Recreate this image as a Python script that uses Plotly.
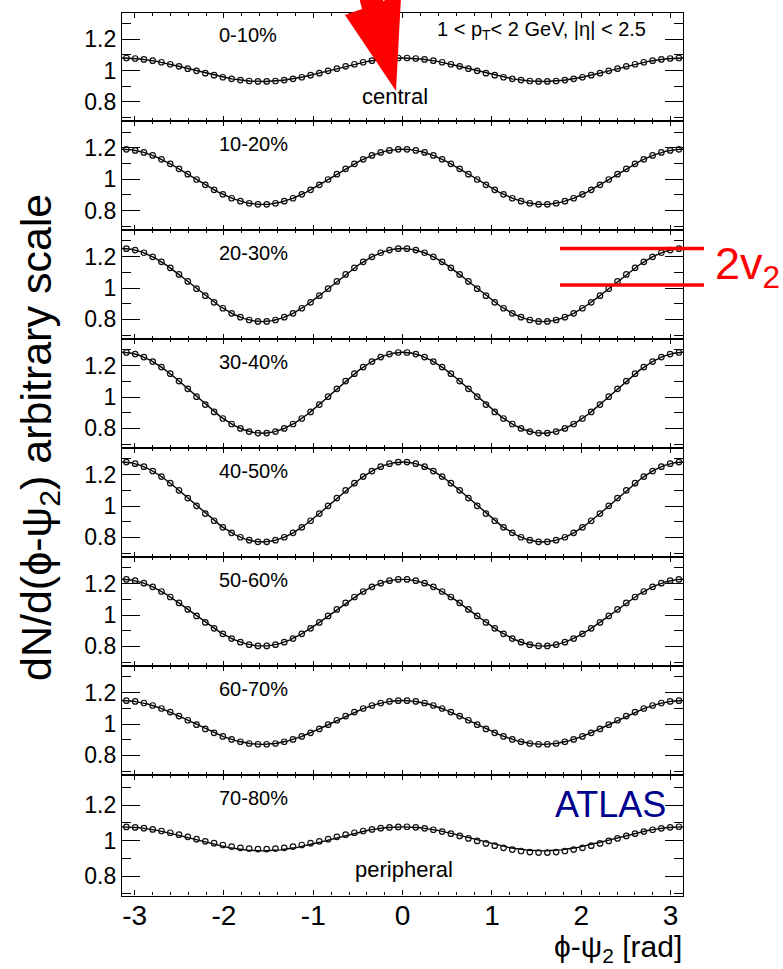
import numpy as np
import plotly.graph_objects as go

W, H = 783, 969

# ---------------- data ----------------
centrality = ["0-10%", "10-20%", "20-30%", "30-40%", "40-50%", "50-60%", "60-70%", "70-80%"]
n_bins = 64
phi_edges = np.linspace(-np.pi, np.pi, n_bins + 1)
phi = 0.5 * (phi_edges[:-1] + phi_edges[1:])

y_0_10 = [1.080, 1.077, 1.071, 1.063, 1.053, 1.040, 1.027, 1.012, 0.998, 0.983, 0.970, 0.957, 0.947, 0.939, 0.933, 0.930,
          0.930, 0.933, 0.939, 0.947, 0.957, 0.970, 0.983, 0.998, 1.012, 1.027, 1.040, 1.053, 1.063, 1.071, 1.077, 1.080,
          1.080, 1.077, 1.071, 1.063, 1.053, 1.040, 1.027, 1.012, 0.998, 0.983, 0.970, 0.957, 0.947, 0.939, 0.933, 0.930,
          0.930, 0.933, 0.939, 0.947, 0.957, 0.970, 0.983, 0.998, 1.012, 1.027, 1.040, 1.053, 1.063, 1.071, 1.077, 1.080]
y_10_20 = [1.191, 1.184, 1.171, 1.152, 1.127, 1.098, 1.066, 1.032, 0.998, 0.964, 0.932, 0.903, 0.878, 0.859, 0.846, 0.839,
           0.839, 0.846, 0.859, 0.878, 0.903, 0.932, 0.964, 0.998, 1.032, 1.066, 1.098, 1.127, 1.152, 1.171, 1.184, 1.191,
           1.191, 1.184, 1.171, 1.152, 1.127, 1.098, 1.066, 1.032, 0.998, 0.964, 0.932, 0.903, 0.878, 0.859, 0.846, 0.839,
           0.839, 0.846, 0.859, 0.878, 0.903, 0.932, 0.964, 0.998, 1.032, 1.066, 1.098, 1.127, 1.152, 1.171, 1.184, 1.191]
y_20_30 = [1.251, 1.242, 1.225, 1.199, 1.167, 1.129, 1.087, 1.042, 0.996, 0.951, 0.909, 0.871, 0.839, 0.814, 0.796, 0.787,
           0.787, 0.796, 0.814, 0.839, 0.871, 0.909, 0.951, 0.996, 1.042, 1.087, 1.129, 1.167, 1.199, 1.225, 1.242, 1.251,
           1.251, 1.242, 1.225, 1.199, 1.167, 1.129, 1.087, 1.042, 0.996, 0.951, 0.909, 0.871, 0.839, 0.814, 0.796, 0.787,
           0.787, 0.796, 0.814, 0.839, 0.871, 0.909, 0.951, 0.996, 1.042, 1.087, 1.129, 1.167, 1.199, 1.225, 1.242, 1.251]
y_30_40 = [1.284, 1.274, 1.255, 1.226, 1.191, 1.149, 1.102, 1.052, 1.002, 0.952, 0.905, 0.863, 0.828, 0.800, 0.780, 0.770,
           0.770, 0.780, 0.800, 0.828, 0.863, 0.905, 0.952, 1.002, 1.052, 1.102, 1.149, 1.191, 1.226, 1.255, 1.274, 1.284,
           1.284, 1.274, 1.255, 1.226, 1.191, 1.149, 1.102, 1.052, 1.002, 0.952, 0.905, 0.863, 0.828, 0.800, 0.780, 0.770,
           0.770, 0.780, 0.800, 0.828, 0.863, 0.905, 0.952, 1.002, 1.052, 1.102, 1.149, 1.191, 1.226, 1.255, 1.274, 1.284]
y_40_50 = [1.280, 1.270, 1.251, 1.223, 1.188, 1.146, 1.100, 1.051, 1.001, 0.952, 0.906, 0.864, 0.829, 0.801, 0.782, 0.772,
           0.772, 0.782, 0.801, 0.829, 0.864, 0.906, 0.952, 1.001, 1.051, 1.100, 1.146, 1.188, 1.223, 1.251, 1.270, 1.280,
           1.280, 1.270, 1.251, 1.223, 1.188, 1.146, 1.100, 1.051, 1.001, 0.952, 0.906, 0.864, 0.829, 0.801, 0.782, 0.772,
           0.772, 0.782, 0.801, 0.829, 0.864, 0.906, 0.952, 1.001, 1.051, 1.100, 1.146, 1.188, 1.223, 1.251, 1.270, 1.280]
y_50_60 = [1.227, 1.219, 1.203, 1.180, 1.150, 1.115, 1.077, 1.036, 0.994, 0.953, 0.915, 0.880, 0.850, 0.827, 0.811, 0.803,
           0.803, 0.811, 0.827, 0.850, 0.880, 0.915, 0.953, 0.994, 1.036, 1.077, 1.115, 1.150, 1.180, 1.203, 1.219, 1.227,
           1.227, 1.219, 1.203, 1.180, 1.150, 1.115, 1.077, 1.036, 0.994, 0.953, 0.915, 0.880, 0.850, 0.827, 0.811, 0.803,
           0.803, 0.811, 0.827, 0.850, 0.880, 0.915, 0.953, 0.994, 1.036, 1.077, 1.115, 1.150, 1.180, 1.203, 1.219, 1.227]
y_60_70 = [1.149, 1.144, 1.134, 1.118, 1.099, 1.076, 1.051, 1.024, 0.996, 0.969, 0.944, 0.921, 0.902, 0.887, 0.876, 0.871,
           0.871, 0.876, 0.887, 0.902, 0.921, 0.944, 0.969, 0.996, 1.024, 1.051, 1.076, 1.099, 1.118, 1.134, 1.144, 1.149,
           1.149, 1.144, 1.134, 1.118, 1.099, 1.076, 1.051, 1.024, 0.996, 0.969, 0.944, 0.921, 0.902, 0.887, 0.876, 0.871,
           0.871, 0.876, 0.887, 0.902, 0.921, 0.944, 0.969, 0.996, 1.024, 1.051, 1.076, 1.099, 1.118, 1.134, 1.144, 1.149]
y_70_80 = [1.077, 1.074, 1.070, 1.063, 1.054, 1.044, 1.033, 1.021, 1.008, 0.996, 0.985, 0.975, 0.966, 0.959, 0.955, 0.952,
           0.952, 0.955, 0.959, 0.966, 0.975, 0.985, 0.996, 1.008, 1.021, 1.033, 1.044, 1.054, 1.063, 1.070, 1.074, 1.077,
           1.078, 1.075, 1.069, 1.061, 1.051, 1.039, 1.026, 1.012, 0.998, 0.984, 0.971, 0.959, 0.949, 0.941, 0.935, 0.932,
           0.932, 0.935, 0.941, 0.949, 0.959, 0.971, 0.984, 0.998, 1.012, 1.026, 1.039, 1.051, 1.061, 1.069, 1.075, 1.078]

series = [y_0_10, y_10_20, y_20_30, y_30_40, y_40_50, y_50_60, y_60_70, y_70_80]

x_tick_vals = [-3, -2, -1, 0, 1, 2, 3]
x_tick_text = ["-3", "-2", "-1", "0", "1", "2", "3"]
y_tick_vals = [0.8, 1.0, 1.2]
y_tick_text = ["0.8", "1", "1.2"]

# ---------------- layout helpers ----------------
def fx(p):
    return p / W

def fy(p):
    return 1 - p / H

FONT = "Liberation Sans, Arial, Helvetica, sans-serif"
panel_edges_px = [12.7, 121.3, 230, 339, 448, 557, 666, 775, 895.5]
plot_left_px, plot_right_px = 122, 683.3
yranges = [[0.675, 1.37]] * 7 + [[0.69, 1.37]]

fig = go.Figure()
xs = np.linspace(-np.pi, np.pi, 721)
fits = []
for i, ys in enumerate(series):
    ya = np.asarray(ys)
    A = np.column_stack([np.ones_like(phi), np.cos(2 * phi)])
    coef, *_ = np.linalg.lstsq(A, ya, rcond=None)
    fits.append(coef)
    sfx = "" if i == 0 else str(i + 1)
    fig.add_trace(go.Scatter(x=xs, y=coef[0] + coef[1] * np.cos(2 * xs), mode="lines",
                             line=dict(color="black", width=1.4), xaxis="x" + sfx, yaxis="y" + sfx,
                             hoverinfo="skip"))
    fig.add_trace(go.Scatter(x=phi, y=ya, mode="markers",
                             marker=dict(symbol="circle-open", size=5.5, color="#111111", line=dict(width=1.2)),
                             xaxis="x" + sfx, yaxis="y" + sfx))

layout = dict(width=W, height=H, margin=dict(l=0, r=0, t=0, b=0), showlegend=False,
              paper_bgcolor="white", plot_bgcolor="white", template="none",
              font=dict(family=FONT, color="black"))

for i in range(8):
    sfx = "" if i == 0 else str(i + 1)
    top, bot = panel_edges_px[i], panel_edges_px[i + 1]
    layout["xaxis" + sfx] = dict(
        domain=[fx(plot_left_px), fx(plot_right_px)], anchor="y" + sfx, range=[-np.pi, np.pi],
        showline=True, linecolor="black", linewidth=1.3, mirror="allticks",
        ticks="inside", ticklen=5, tickwidth=1.1, tickcolor="black",
        tickvals=x_tick_vals, ticktext=x_tick_text, showticklabels=(i == 7),
        tickfont=dict(size=28, family=FONT), ticklabelstandoff=-5,
        showgrid=False, zeroline=False, automargin=False,
        minor=dict(ticks="inside", dtick=0.2, tick0=0, ticklen=3, tickwidth=1, tickcolor="black", showgrid=False),
    )
    layout["yaxis" + sfx] = dict(
        domain=[fy(bot), fy(top)], anchor="x" + sfx, range=yranges[i],
        showline=True, linecolor="black", linewidth=1.3, mirror="allticks",
        ticks="inside", ticklen=18, tickwidth=1.1, tickcolor="black",
        tickvals=y_tick_vals, ticktext=y_tick_text, tickfont=dict(size=23, family=FONT),
        showgrid=False, zeroline=False, automargin=False,
        minor=dict(ticks="inside", dtick=0.1, tick0=0, ticklen=9, tickwidth=1, tickcolor="black", showgrid=False),
    )

annotations = []
for i, lab in enumerate(centrality):
    annotations.append(dict(text=lab, x=fx(217), y=fy(panel_edges_px[i] + 22.6), xref="paper", yref="paper",
                            xanchor="left", yanchor="middle", showarrow=False, font=dict(size=20, family=FONT)))

annotations += [
    dict(text="1 < p<sub>T</sub>< 2 GeV, |η| < 2.5", x=fx(435), y=fy(30), xref="paper", yref="paper",
         xanchor="left", yanchor="middle", showarrow=False, font=dict(size=20, family=FONT)),
    dict(text="central", x=fx(360), y=fy(97), xref="paper", yref="paper",
         xanchor="left", yanchor="middle", showarrow=False, font=dict(size=22, family=FONT)),
    dict(text="peripheral", x=fx(353), y=fy(869), xref="paper", yref="paper",
         xanchor="left", yanchor="middle", showarrow=False, font=dict(size=22, family=FONT)),
    dict(text="ATLAS", x=fx(553), y=fy(804), xref="paper", yref="paper",
         xanchor="left", yanchor="middle", showarrow=False, font=dict(size=36, family=FONT, color="#00008f")),
    dict(text="ϕ-ψ<sub>2</sub> [rad]", x=fx(684), y=fy(948), xref="paper", yref="paper",
         xanchor="right", yanchor="middle", showarrow=False, font=dict(size=30, family=FONT)),
    dict(text="dN/d(ϕ-ψ<sub>2</sub>) arbitrary scale", x=fx(39), y=fy(438), xref="paper", yref="paper",
         xanchor="center", yanchor="middle", textangle=-90, showarrow=False, font=dict(size=43, family=FONT)),
    dict(text="2v<sub>2</sub>", x=fx(713), y=fy(266), xref="paper", yref="paper",
         xanchor="left", yanchor="middle", showarrow=False, font=dict(size=45, family=FONT, color="#ff0000")),
]
layout["annotations"] = annotations

# red arrow (decoration) in pixel space
arrow_px = [(359, -3), (362, 9), (345, 15), (396, 91), (401, -3), (388, -3), (383.5, 1.5), (382, -3)]
path = "M " + " L ".join(f"{fx(a):.5f},{fy(b):.5f}" for a, b in arrow_px) + " Z"
c3, a3 = fits[2]
shapes = [
    dict(type="path", path=path, xref="paper", yref="paper", fillcolor="#ff0000", line=dict(width=0)),
    dict(type="line", xref="paper", yref="y3", x0=fx(560), x1=fx(704), y0=c3 + abs(a3), y1=c3 + abs(a3),
         line=dict(color="#ff0000", width=3.5)),
    dict(type="line", xref="paper", yref="y3", x0=fx(560), x1=fx(704), y0=c3, y1=c3,
         line=dict(color="#ff0000", width=3.5)),
]
layout["shapes"] = shapes

fig.update_layout(**layout)
fig.write_html("out.html")
